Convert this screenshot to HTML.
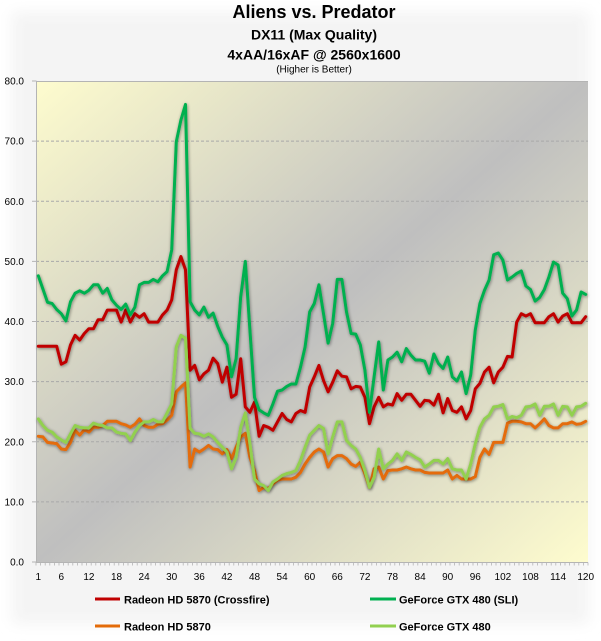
<!DOCTYPE html>
<html>
<head>
<meta charset="utf-8">
<style>
html,body{margin:0;padding:0;background:#fff;}
#wrap{position:relative;width:601px;height:641px;overflow:hidden;background:#fff;}
svg{position:absolute;left:0;top:0;}
text{font-family:"Liberation Sans",Arial,sans-serif;fill:#000;}
</style>
</head>
<body>
<div id="wrap">
<svg id="chart" width="601" height="641" viewBox="0 0 601 641" xmlns="http://www.w3.org/2000/svg">
  <defs>
    <filter id="soft" x="-5%" y="-5%" width="110%" height="110%">
      <feGaussianBlur stdDeviation="7"/>
    </filter>
    <linearGradient id="plotbg" x1="0" y1="0" x2="1" y2="1">
      <stop offset="0" stop-color="#fefcce"/>
      <stop offset="0.5" stop-color="#bfbfbf"/>
      <stop offset="1" stop-color="#fefcce"/>
    </linearGradient>
    <filter id="shadow" x="-5%" y="-5%" width="110%" height="110%">
      <feGaussianBlur in="SourceAlpha" stdDeviation="1.6" result="b"/>
      <feOffset in="b" dx="0.5" dy="1" result="o"/>
      <feComponentTransfer in="o" result="s">
        <feFuncA type="linear" slope="0.45"/>
      </feComponentTransfer>
      <feMerge>
        <feMergeNode in="s"/>
        <feMergeNode in="SourceGraphic"/>
      </feMerge>
    </filter>
  </defs>

  <!-- chart area soft background -->
  <rect x="12" y="12" width="577" height="612" fill="#f4f4f4" filter="url(#soft)"/>

  <!-- title -->
  <text x="314" y="18" font-size="18" font-weight="bold" text-anchor="middle">Aliens vs. Predator</text>
  <text x="314" y="39.5" font-size="14" font-weight="bold" text-anchor="middle">DX11 (Max Quality)</text>
  <text x="314" y="59.5" font-size="14" font-weight="bold" text-anchor="middle">4xAA/16xAF @ 2560x1600</text>
  <text x="314" y="72.5" font-size="10" text-anchor="middle">(Higher is Better)</text>

  <!-- plot area -->
  <rect x="36" y="81" width="552" height="481" fill="url(#plotbg)"/>
  <g id="grid"></g>
  <g id="axes"></g>
  <g id="series"></g>
  <g id="labels"></g>

  <!-- legend -->
  <line x1="95" y1="599" x2="120" y2="599" stroke="#c00000" stroke-width="3"/>
  <text x="124" y="603.5" font-size="11" font-weight="bold">Radeon HD 5870 (Crossfire)</text>
  <line x1="370" y1="599" x2="396" y2="599" stroke="#00b050" stroke-width="3"/>
  <text x="399" y="603.5" font-size="11" font-weight="bold">GeForce GTX 480 (SLI)</text>
  <line x1="95" y1="626" x2="120" y2="626" stroke="#e46c0a" stroke-width="3"/>
  <text x="124" y="630.5" font-size="11" font-weight="bold">Radeon HD 5870</text>
  <line x1="370" y1="626" x2="396" y2="626" stroke="#92d050" stroke-width="3"/>
  <text x="399" y="630.5" font-size="11" font-weight="bold">GeForce GTX 480</text>
</svg>
</div>
<script>
(function(){
  var NS="http://www.w3.org/2000/svg";
  function el(tag,attrs,parent,txt){var e=document.createElementNS(NS,tag);for(var k in attrs)e.setAttribute(k,attrs[k]);if(txt!==undefined)e.textContent=txt;parent.appendChild(e);return e;}
  function X(i){return 33.7+4.6*i;}
  function Y(v){return 562-v*6.0125;}
  var grid=document.getElementById('grid'),axes=document.getElementById('axes'),labels=document.getElementById('labels'),series=document.getElementById('series');
  // gridlines
  for(var v=10;v<=70;v+=10){
    el('line',{x1:36,x2:588,y1:Y(v),y2:Y(v),stroke:'#a9a9a9','stroke-width':1,'stroke-dasharray':'3,2'},grid);
  }
  el('line',{x1:36,x2:588,y1:81.5,y2:81.5,stroke:'#b4b4b4','stroke-width':1},grid);
  // y axis
  el('line',{x1:36.5,x2:36.5,y1:81,y2:562,stroke:'#b4b4b4','stroke-width':1},axes);
  for(var v=0;v<=80;v+=10){
    var y=Y(v);
    el('line',{x1:32,x2:36.5,y1:y,y2:y,stroke:'#b4b4b4','stroke-width':1},axes);
    el('text',{x:24,y:y+3.6,'font-size':10,'text-anchor':'end'},labels,v.toFixed(1));
  }
  // x axis
  el('line',{x1:36,x2:588,y1:562.5,y2:562.5,stroke:'#b4b4b4','stroke-width':1},axes);
  for(var k=0;k<=120;k++){
    var x=36+k*4.6;
    el('line',{x1:x,x2:x,y1:562.5,y2:565.5,stroke:'#b4b4b4','stroke-width':0.8},axes);
  }
  var xl=[1];for(var n=6;n<=120;n+=6)xl.push(n);
  xl.forEach(function(n){el('text',{x:X(n),y:580,'font-size':10,'text-anchor':'middle'},labels,String(n));});

  var red=[35.9,35.9,35.9,35.9,35.9,32.9,33.3,36.1,37.7,36.9,38.0,38.8,38.8,40.3,40.3,41.9,41.9,41.9,39.9,41.9,39.9,41.3,40.7,41.3,39.9,39.9,39.9,41.1,41.9,43.6,48.6,50.8,48.6,31.9,32.7,30.3,31.3,31.9,33.9,33.0,
    29.9,32.4,27.4,27.9,33.8,25.8,24.9,26.6,20.9,22.7,22.4,21.9,23.3,24.7,23.7,23.3,24.7,25.2,24.9,29.1,30.8,32.7,30.2,28.3,29.9,31.8,30.9,30.8,28.8,29.2,29.1,27.4,23.0,25.8,27.4,25.8,26.3,26.1,28.0,26.9,
    27.9,27.9,26.9,25.9,26.9,26.8,26.1,27.9,24.8,27.2,25.2,24.9,25.8,23.8,25.2,28.8,29.7,31.6,32.4,29.8,31.6,32.4,34.2,34.1,39.9,41.3,40.9,41.3,39.8,39.8,39.8,40.8,41.3,39.9,40.9,41.3,39.8,39.8,39.8,40.8];
  var sli=[47.6,45.4,43.2,43.0,42.0,41.3,40.1,43.3,44.7,45.1,44.7,45.2,46.1,46.1,44.7,45.5,43.6,42.7,42.0,42.9,41.1,42.4,46.1,46.5,46.5,47.0,46.6,47.6,48.3,51.9,69.9,73.5,76.1,43.3,41.9,41.1,42.4,40.7,41.4,39.2,
    37.4,36.1,30.8,33.8,44.1,50.0,38.6,27.4,25.3,24.8,24.4,26.3,28.4,28.6,29.2,29.6,29.6,32.4,35.8,41.6,43.0,46.1,41.3,36.4,39.7,47.0,47.0,41.6,38.0,37.9,36.1,31.9,24.9,30.8,36.6,28.6,33.6,34.1,34.9,33.3,
    35.5,34.4,33.6,33.6,33.4,31.4,34.6,33.0,32.2,34.1,30.8,30.1,31.6,28.0,31.1,38.6,43.0,45.2,46.9,51.1,51.4,50.2,46.9,47.4,48.0,48.4,45.9,45.3,43.4,44.0,45.3,47.4,49.9,49.4,44.7,43.8,40.9,41.9,44.9,44.5];
  var org=[20.9,20.8,19.9,19.8,19.7,18.8,18.7,19.9,21.9,21.1,22.0,21.6,22.4,22.4,22.7,23.4,23.4,23.4,23.0,22.8,22.4,22.9,23.8,22.7,22.4,22.4,22.9,23.0,23.6,24.4,28.3,29.1,29.8,15.8,18.8,18.3,18.8,19.4,18.8,18.7,
    18.0,18.7,17.2,19.1,20.8,21.4,17.4,15.2,11.9,12.4,12.2,13.0,13.6,13.8,13.8,13.8,14.1,14.9,16.3,17.4,18.3,18.8,18.3,15.8,17.2,17.7,17.7,17.2,16.3,15.9,16.6,14.7,12.4,15.5,15.8,13.8,15.2,15.3,15.3,15.5,
    15.8,15.5,15.3,15.3,14.9,14.8,14.8,14.8,14.8,15.3,13.8,14.4,13.8,13.8,13.8,14.2,17.4,18.8,17.9,19.9,19.9,19.9,23.1,23.4,23.4,23.3,23.0,23.0,22.3,23.0,23.8,22.7,22.3,22.3,23.0,23.0,23.3,22.9,23.0,23.4];
  var gtx=[23.8,22.7,21.9,21.6,20.8,20.3,19.9,21.3,22.7,22.4,22.3,22.3,23.1,22.8,22.7,22.3,22.3,21.6,21.4,21.3,20.2,21.6,22.7,23.3,23.3,23.7,23.3,23.3,24.8,26.3,35.8,37.7,37.2,22.2,21.4,21.3,20.9,21.3,20.8,19.9,
    19.1,18.3,15.5,17.4,22.4,24.8,19.7,13.8,13.0,12.7,11.9,13.3,13.8,14.4,14.7,14.9,15.2,16.9,19.1,21.1,21.9,22.7,22.2,18.0,20.8,23.3,23.3,20.2,19.4,18.8,17.4,15.2,12.4,14.1,18.8,15.5,16.3,16.9,18.0,16.9,
    18.3,17.9,17.4,17.0,15.8,16.3,16.9,16.9,16.3,17.2,15.5,15.3,15.3,13.8,16.3,19.7,22.4,23.8,24.4,25.8,25.9,26.2,23.8,24.2,24.0,24.4,25.8,25.9,26.3,24.4,25.9,25.9,26.3,24.4,25.9,25.8,24.4,25.8,25.9,26.4];
  function draw(data,color){
    var pts=data.map(function(v,i){return X(i+1).toFixed(1)+','+Y(v).toFixed(1);}).join(' ');
    el('polyline',{points:pts,fill:'none',stroke:color,'stroke-width':3,'stroke-linejoin':'round','stroke-linecap':'round',filter:'url(#shadow)'},series);
  }
  draw(red,'#c00000');
  draw(sli,'#00b050');
  draw(org,'#e46c0a');
  draw(gtx,'#92d050');
})();
</script>
</body>
</html>
